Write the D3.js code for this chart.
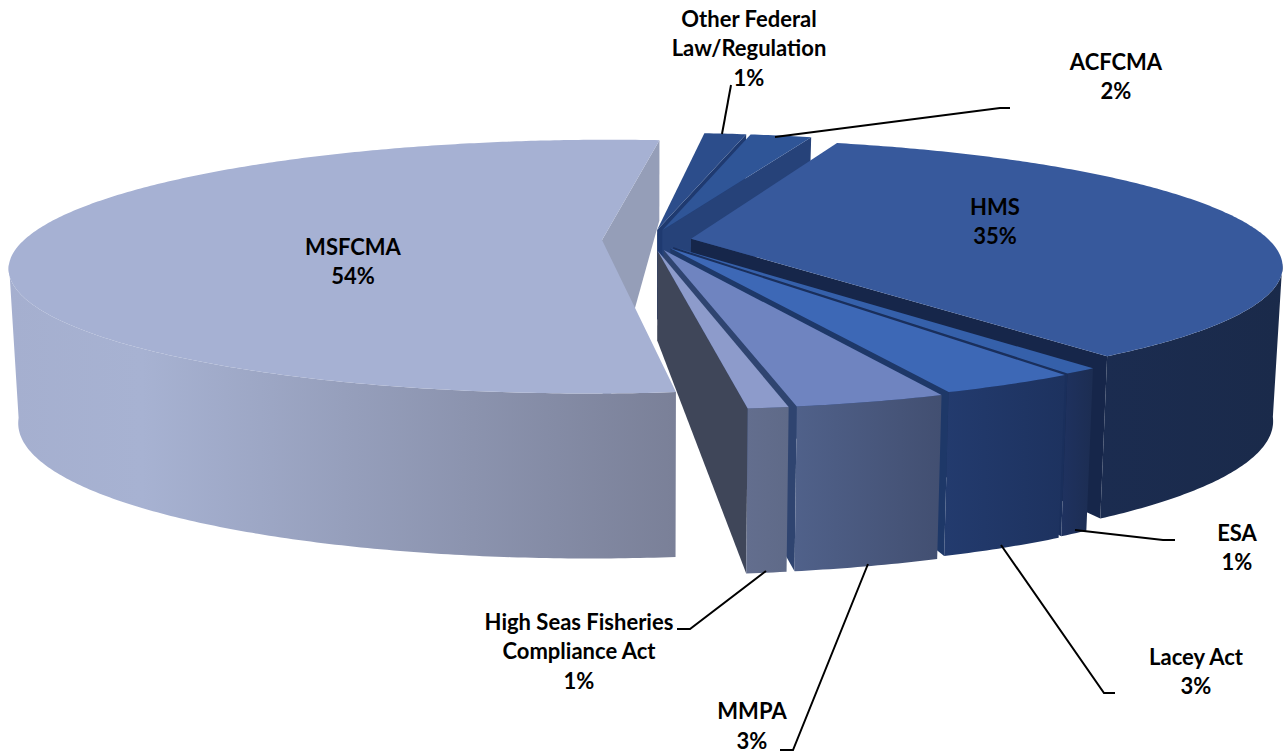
<!DOCTYPE html>
<html>
<head>
<meta charset="utf-8">
<script src="https://cdnjs.cloudflare.com/ajax/libs/d3/7.8.5/d3.min.js"></script>
<style>
  html, body { margin: 0; padding: 0; background: #fff; }
  svg { display: block; }
  text { font-family: Lato, "Noto Sans", sans-serif; font-weight: 700; font-size: 22px; fill: #000; }
</style>
</head>
<body>
<script>
var categories = ["Other Federal Law/Regulation", "ACFCMA", "HMS", "ESA", "Lacey Act", "MMPA", "High Seas Fisheries Compliance Act", "MSFCMA"];
var percents = [1.42, 2.08, 34.86, 0.78, 3.11, 3.33, 0.89, 53.53];
var labelLines = [["Other Federal", "Law/Regulation"], ["ACFCMA"], ["HMS"], ["ESA"], ["Lacey Act"], ["MMPA"], ["High Seas Fisheries", "Compliance Act"], ["MSFCMA"]];

var topColors = ["#2c4d8b", "#2f5597", "#37599c", "#3560aa", "#3d68b6", "#6f84c0", "#8d9bcb", "#a6b1d3"];
var faceColors = ["#1f3a70", "#264279", "#16264a", "#1a2f5c", "#1e3868", "#2f4470", "#3f4659", "#959eb8"];
var wallLeft = ["#1f3a70", "#264279", "#1b2c50", "#1f3260", "#233b6e", "#50618a", "#636e8e", "#a5afcf"];
var wallRight = ["#1f3a70", "#264279", "#1a2a4a", "#1c2d52", "#1d325f", "#424f71", "#5f6a88", "#7a8098"];

// how far each slice is pulled out, and wall height at its apex
var explode = [0.085, 0.085, 0.072, 0.07, 0.075, 0.085, 0.085, 0.083];
var apexDepth = [90, 90, 90, 90, 90, 90, 90, 184];

var labelX = [749, 1116, 995, 1237, 1196, 752, 579, 353];
var labelY = [19, 62, 207, 533, 657, 711.5, 622, 247];
var lineGap = 29.5;

var leaders = [
    [[731, 85], [722, 134]],
    [[1010, 108], [1000, 108], [775, 137]],
    null,
    [[1175, 540], [1163, 540], [1075, 530]],
    [[1115, 693], [1104, 693], [1001, 545]],
    [[780, 750], [793, 750], [868, 564]],
    [[677, 629], [690, 629], [766, 571]],
    null
];

var width = 1287, height = 754;
var cx = 650, cy = 240;
var A = 121.3, B = 578, k = 0.209;
var shrink = 0.985;

var rimDepth = d3.scaleLinear().domain([-1, 0.2, 1]).range([80, 154, 165]);

var svg = d3.select("body").append("svg")
    .attr("width", width)
    .attr("height", height);
var defs = svg.append("defs");

var pie = d3.pie().sort(null)
    .startAngle(5.9 * Math.PI / 180)
    .endAngle(365.9 * Math.PI / 180);
var slices = pie(percents);

// r=0 is the apex, r=1 the rim. bottom=true gives the lower plane of the disk
function project(a, r, e, bottom) {
    var ux = Math.sin(a), uy = -Math.cos(a);
    var X = ux * r + Math.sin(e.mid) * e.off;
    var Y = uy * r - Math.cos(e.mid) * e.off;
    var w = 1 - k * Y;
    var sx = cx + B * X / w;
    var sy = cy + A * Y / w;
    if (bottom) {
        var d = e.apex + (rimDepth(uy) - e.apex) * r;
        sx = cx + (sx - cx) * shrink;
        sy = sy + d;
    }
    return [sx, sy];
}

function arcAngles(a0, a1) {
    var n = Math.max(2, Math.ceil((a1 - a0) / 0.01));
    return d3.range(n + 1).map(function(i) { return a0 + (a1 - a0) * i / n; });
}

var line = d3.line();

function closed(points) {
    return line(points) + "Z";
}

var g = svg.append("g");

slices.forEach(function(s, i) {
    var e = { mid: (s.startAngle + s.endAngle) / 2, off: explode[i], apex: apexDepth[i] };
    var sg = g.append("g").attr("class", "slice");

    // end face, this is the dark strip that shows next to the following slice
    sg.append("path")
        .attr("d", closed([
            project(s.endAngle, 0, e, false),
            project(s.endAngle, 1, e, false),
            project(s.endAngle, 1, e, true),
            project(s.endAngle, 0, e, true)
        ]))
        .attr("fill", faceColors[i]);

    // rim wall, only the part that looks at the viewer
    var angles = arcAngles(s.startAngle, s.endAngle).filter(function(a) {
        return -Math.cos(a) >= 0.19;
    });
    if (angles.length > 1) {
        var upper = angles.map(function(a) { return project(a, 1, e, false); });
        var lower = angles.map(function(a) { return project(a, 1, e, true); }).reverse();
        var xs = upper.concat(lower).map(function(p) { return p[0]; });
        var grad = defs.append("linearGradient")
            .attr("id", "wall" + i)
            .attr("gradientUnits", "userSpaceOnUse")
            .attr("x1", d3.min(xs)).attr("x2", d3.max(xs))
            .attr("y1", 0).attr("y2", 0);
        grad.append("stop").attr("offset", 0).attr("stop-color", wallLeft[i]);
        if (i === 7) {
            // big slice stays light until about a third of the way across
            grad.append("stop").attr("offset", 0.2).attr("stop-color", "#a7b2d2");
        }
        grad.append("stop").attr("offset", 1).attr("stop-color", wallRight[i]);
        sg.append("path")
            .attr("d", closed(upper.concat(lower)))
            .attr("fill", "url(#wall" + i + ")");
    }

    // top of the slice
    var rim = arcAngles(s.startAngle, s.endAngle).map(function(a) { return project(a, 1, e, false); });
    sg.append("path")
        .attr("d", closed([project(s.startAngle, 0, e, false)].concat(rim)))
        .attr("fill", topColors[i]);
});

// leader lines
leaders.forEach(function(pts) {
    if (!pts) return;
    svg.append("path")
        .attr("d", line(pts))
        .attr("fill", "none")
        .attr("stroke", "#000")
        .attr("stroke-width", 2);
});

// labels
var pct = d3.format(".0f");
categories.forEach(function(name, i) {
    var lines = labelLines[i].concat([pct(percents[i]) + "%"]);
    var t = svg.append("text")
        .attr("class", "label")
        .attr("text-anchor", "middle")
        .attr("aria-label", name);
    lines.forEach(function(txt, j) {
        t.append("tspan")
            .attr("x", labelX[i])
            .attr("y", labelY[i] + j * lineGap)
            .attr("dy", "0.35em")
            .text(txt);
    });
});
</script>
</body>
</html>
